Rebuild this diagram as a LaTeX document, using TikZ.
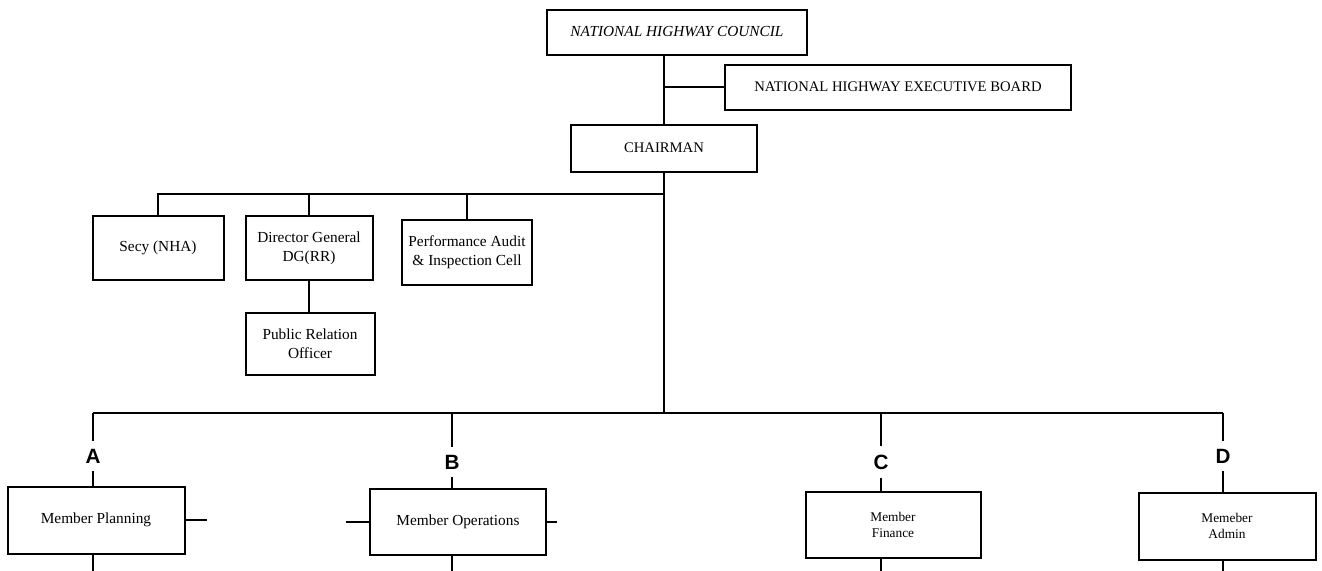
\documentclass[tikz,border=0pt]{standalone}
\usepackage{fontspec}
\setmainfont{Liberation Serif}
\newfontfamily\lettersf{Liberation Sans}

\begin{document}
\begin{tikzpicture}[x=0.75pt, y=-0.75pt,
    box/.style={draw, line width=1.5pt, inner sep=0pt, align=center,
        font=\fontsize{11.5}{14}\selectfont},
    smallbox/.style={box, font=\fontsize{10}{12.5}\selectfont},
    letter/.style={inner sep=6pt, font=\lettersf\bfseries\fontsize{15.5}{15.5}\selectfont},
    link/.style={line width=1.5pt}]
    \useasboundingbox (0,0) rectangle (1322,571);

    % top of the chart
    \node[box, minimum width=195pt, minimum height=33.75pt, font=\itshape\fontsize{11.5}{14}\selectfont] (council) at (677,32) {NATIONAL HIGHWAY COUNCIL};
    \node[box, minimum width=259.5pt, minimum height=33.75pt, font=\fontsize{11}{14}\selectfont] (execboard) at (898,87) {NATIONAL HIGHWAY EXECUTIVE BOARD};
    \node[box, minimum width=139.5pt, minimum height=35.25pt, font=\fontsize{11}{14}\selectfont] (chairman) at (664,148) {CHAIRMAN};

    % staff boxes
    \node[box, minimum width=98.25pt, minimum height=48pt] (secy) at (158,248) {Secy (NHA)};
    \node[box, minimum width=95.25pt, minimum height=48pt] (director) at (309,248) {Director General\\DG(RR)};
    \node[box, minimum width=97.5pt, minimum height=48.75pt] (perf) at (467,252) {Performance Audit\\\& Inspection Cell};
    \node[box, minimum width=96.75pt, minimum height=46.5pt] (pro) at (310,344) {Public Relation\\Officer};

    % members
    \node[letter] (A) at (93,456) {A};
    \node[letter] (B) at (452,462) {B};
    \node[letter] (C) at (881,462) {C};
    \node[letter] (D) at (1223,456) {D};
    \node[box, minimum width=132.75pt, minimum height=50.25pt] (planning) at (96,520) {Member Planning};
    \node[box, minimum width=132pt, minimum height=49.5pt] (operations) at (458,522) {Member Operations};
    \node[smallbox, minimum width=131.25pt, minimum height=49.5pt] (finance) at (893,525) {Member\\Finance};
    \node[smallbox, minimum width=132.75pt, minimum height=50.25pt] (admin) at (1227,526) {Memeber\\Admin};

    \coordinate (ubus) at (664,194);
    \coordinate (lbus) at (664,413);
    \coordinate (foot) at (0,571);
    \coordinate (pstub) at (207,520);
    \coordinate (ostubw) at (346,522);
    \coordinate (ostube) at (557,522);

    % draw trunk
    \draw[link] (council.south -| chairman.north) -- (chairman.north);
    \draw[link] (execboard.west -| chairman.north) -- (execboard.west);
    \draw[link] (chairman.south) -- (lbus);

    % upper branch
    \draw[link] (secy.north) |- (ubus);
    \draw[link] (director.north) -- (director.north |- ubus);
    \draw[link] (perf.north) -- (perf.north |- ubus);
    \draw[link] (director.south) -- (director.south |- pro.north);

    % lower branch
    \draw[link] (A |- lbus) -- (D |- lbus);
    \draw[link] (A) -- (A |- lbus);
    \draw[link] (B) -- (B |- lbus);
    \draw[link] (C) -- (C |- lbus);
    \draw[link] (D) -- (D |- lbus);
    \draw[link] (A) -- (A |- planning.north);
    \draw[link] (B) -- (B |- operations.north);
    \draw[link] (C) -- (C |- finance.north);
    \draw[link] (D) -- (D |- admin.north);

    % stubs
    \draw[link] (planning.east) -- (pstub);
    \draw[link] (operations.west) -- (ostubw);
    \draw[link] (operations.east) -- (ostube);
    \draw[link] (A |- planning.south) -- (A |- foot);
    \draw[link] (B |- operations.south) -- (B |- foot);
    \draw[link] (C |- finance.south) -- (C |- foot);
    \draw[link] (D |- admin.south) -- (D |- foot);

\end{tikzpicture}
\end{document}
